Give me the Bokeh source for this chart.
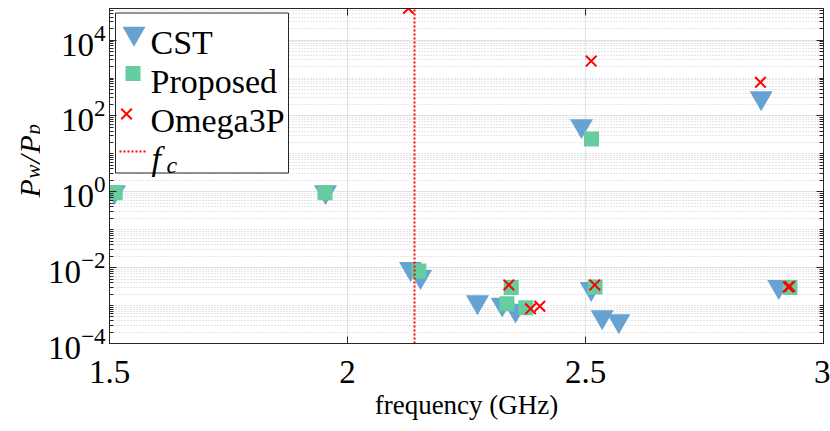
import numpy as np
from bokeh.plotting import figure
from bokeh.layouts import row
from bokeh.models import (Range1d, FixedTicker, LogAxis, LinearAxis, LinearScale,
                          CustomJSTickFormatter)
from bokeh.core.properties import value
from bokeh.embed import file_html
from bokeh.resources import INLINE

# ---------------- data ----------------
cst_freq = [1.5105, 1.9538, 2.1324, 2.1534, 2.2731, 2.3250, 2.3530, 2.4916, 2.5120, 2.5350, 2.5700, 2.8690, 2.9060]
cst_ratio = [1.0, 1.0, 9.4e-3, 5.8e-3, 1.25e-3, 1.08e-3, 7.5e-4, 55.0, 2.8e-3, 5.0e-4, 3.95e-4, 298.0, 3.16e-3]

prop_freq = [1.5120, 1.9527, 2.1500, 2.3350, 2.3440, 2.3746, 2.5126, 2.5200, 2.9296]
prop_ratio = [0.94, 0.94, 8.2e-3, 1.11e-3, 3.0e-3, 8.75e-4, 24.5, 3.1e-3, 2.98e-3]

omega_freq = [2.1280, 2.3389, 2.3845, 2.4040, 2.5120, 2.5195, 2.8676, 2.9260, 2.9290]
omega_ratio = [6.8e4, 3.5e-3, 8.2e-4, 9.6e-4, 2800.0, 3.5e-3, 771.0, 3.1e-3, 3.2e-3]

fc_freq = 2.1408

x_ticks = [1.5, 2.0, 2.5, 3.0]
y_ticks = [1e-4, 1e-2, 1e0, 1e2, 1e4]
x_lim = (1.5, 3.0)
y_lim = (1e-4, 6.8e4)

series_labels = ["CST", "Proposed", "Omega3P"]
x_title = "frequency (GHz)"

# ---------------- styling ----------------
INK = "#262626"
CST_C = "#66a3d2"
PROP_C = "#66cda0"
OMEGA_C = "#ff0000"
FONT = "Liberation Serif"

LBL_W = 40                     # narrow strip holding the y-axis title
W, H = 830 - LBL_W, 431
ML, MR, MT, MB = 109 - LBL_W, 7, 8, 88   # borders around the plot frame
FW, FH = W - ML - MR, H - MT - MB

p = figure(width=W, height=H, x_range=Range1d(*x_lim), y_range=Range1d(*y_lim),
           y_axis_type="log", output_backend="svg", toolbar_location=None,
           min_border_left=ML, min_border_right=MR, min_border_top=MT, min_border_bottom=MB)
p.background_fill_color = "white"
p.border_fill_color = "white"
p.outline_line_color = INK
p.outline_line_width = 1

y_minor = [m * 10.0 ** k for k in range(-4, 5) for m in range(1, 10)
           if y_lim[0] < m * 10.0 ** k < y_lim[1] and (m * 10.0 ** k) not in y_ticks]
yticker = FixedTicker(ticks=y_ticks, minor_ticks=y_minor)
xticker = FixedTicker(ticks=x_ticks, minor_ticks=[])


def style_axis(ax):
    ax.axis_line_color = INK
    ax.major_tick_line_color = INK
    ax.minor_tick_line_color = INK
    ax.major_tick_in = 7
    ax.major_tick_out = 0
    ax.minor_tick_in = 4
    ax.minor_tick_out = 0
    ax.major_label_text_font = FONT
    ax.major_label_text_font_size = "33px"
    ax.major_label_text_color = "black"


yax = p.yaxis[0]
yax.ticker = yticker
style_axis(yax)
yax.major_label_standoff = 4

xax = p.xaxis[0]
xax.ticker = xticker
xax.formatter = CustomJSTickFormatter(code="return tick.toString()")
style_axis(xax)
xax.major_label_standoff = 17
xax.axis_label = x_title
xax.axis_label_text_font = FONT
xax.axis_label_text_font_style = "normal"
xax.axis_label_text_font_size = "27px"
xax.axis_label_text_color = "black"
xax.axis_label_standoff = 4

blank = CustomJSTickFormatter(code="return ''")
rax = LogAxis(ticker=yticker, formatter=blank)
style_axis(rax)
rax.major_label_text_font_size = "0px"
rax.major_label_standoff = 0
p.add_layout(rax, "right")

tax = LinearAxis(ticker=xticker, formatter=blank)
style_axis(tax)
tax.major_label_text_font_size = "0px"
tax.major_label_standoff = 0
p.add_layout(tax, "above")

p.xgrid.grid_line_color = "#e2e2e2"
p.ygrid.grid_line_color = "#e2e2e2"
p.ygrid.minor_grid_line_color = "#cdcdcd"
p.ygrid.minor_grid_line_dash = "1 2"
p.ygrid.minor_grid_line_width = 1

# ---------------- data glyphs ----------------
p.scatter(cst_freq, cst_ratio, marker="inverted_triangle", size=23,
          fill_color=CST_C, line_color=None)
p.scatter(prop_freq, prop_ratio, marker="square", size=15,
          fill_color=PROP_C, line_color=None)
p.scatter(omega_freq, omega_ratio, marker="x", size=15,
          line_color=OMEGA_C, line_width=2)
p.line([fc_freq, fc_freq], list(y_lim), line_color=OMEGA_C, line_dash="2 2", line_width=2)

# ---------------- legend (drawn in frame pixel coordinates) ----------------
p.extra_x_ranges = {"px": Range1d(0, FW)}
p.extra_y_ranges = {"py": Range1d(0, FH)}
p.extra_y_scales = {"py": LinearScale()}
PX = dict(x_range_name="px", y_range_name="py")

p.quad(left=[6], right=[179], bottom=[170.5], top=[330.5], fill_color="white",
       line_color=INK, line_width=1, **PX)
p.scatter([24.5], [310], marker="inverted_triangle", size=23, fill_color=CST_C,
          line_color=None, **PX)
p.scatter([23.5], [270], marker="square", size=15, fill_color=PROP_C, line_color=None, **PX)
p.scatter([17], [229.5], marker="x", size=15, line_color=OMEGA_C, line_width=2, **PX)
p.line([10, 38], [192, 192], line_color=OMEGA_C, line_dash="2 2", line_width=2, **PX)
p.text([41, 41, 41], [301, 262, 223], text=series_labels, text_font=value(FONT),
       text_font_size=value("34px"), text_color="black", text_align="left",
       text_baseline="alphabetic", **PX)
p.text([42], [185], text=["f"], text_font=value(FONT), text_font_style="italic",
       text_font_size=value("34px"), text_color="black", text_baseline="alphabetic", **PX)
p.text([57], [179], text=["c"], text_font=value(FONT), text_font_style="italic",
       text_font_size=value("24px"), text_color="black", text_baseline="alphabetic", **PX)

# ---------------- y-axis title  P_w / P_p  (rotated), in its own strip ----------------
# the strip's frame spans the same rows as the main frame; its y range is in page pixels.
# pieces are right-aligned: each anchor is the upper end of its (rotated) piece
q = figure(width=LBL_W, height=H, x_range=Range1d(0, LBL_W), y_range=Range1d(MB, H - MT),
           output_backend="svg", toolbar_location=None,
           min_border_left=0, min_border_right=0, min_border_top=MT, min_border_bottom=MB,
           x_axis_type=None, y_axis_type=None)
q.outline_line_color = None
q.grid.visible = False
q.background_fill_color = "white"
q.border_fill_color = "white"
A = np.pi / 2
q.text([29, 29, 29], [252.3, 276.3, 296.3], text=["P", "/", "P"], angle=A,
       text_font=value(FONT), text_font_style="italic", text_font_size=value("30px"),
       text_color="black", text_align="right", text_baseline="alphabetic")
q.text([32.5, 32.5], [267, 307.5], text=["w", "p"], angle=A, text_font=value(FONT),
       text_font_style="italic", text_font_size=value("21px"), text_color="black",
       text_align="right", text_baseline="alphabetic")

layout = row(q, p, spacing=0)
open("out.html", "w").write(file_html(layout, INLINE))
